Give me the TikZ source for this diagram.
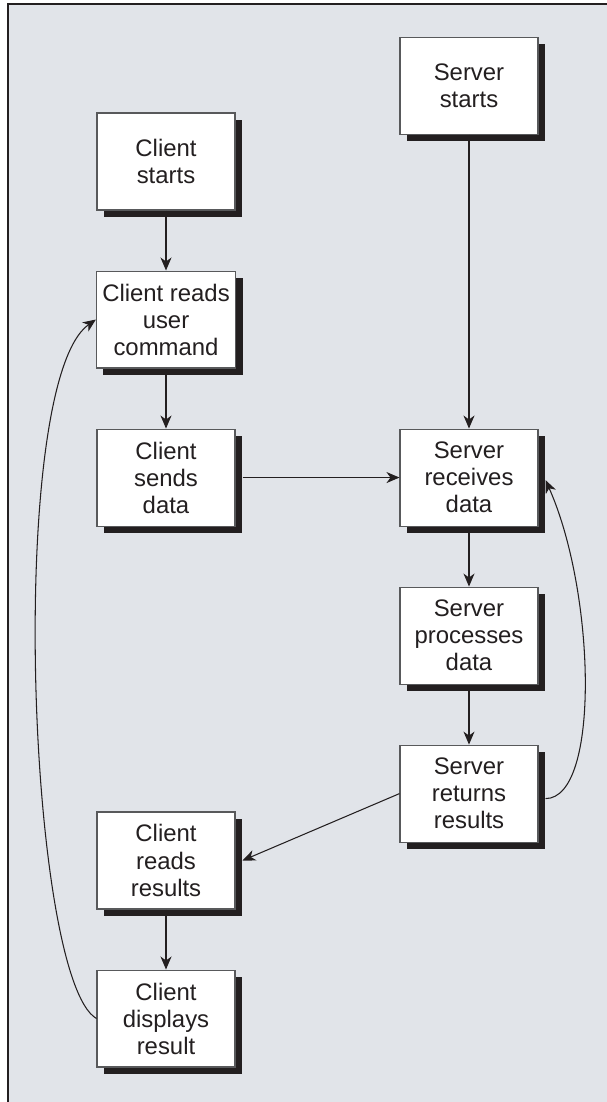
\documentclass[tikz,border=0pt]{standalone}
\usepackage{fontspec}
\setmainfont{Liberation Sans}
\usepackage{tikz}
\usetikzlibrary{arrows.meta,positioning,calc,shadows}
\definecolor{inkdark}{RGB}{35,31,32}
\definecolor{edgegray}{RGB}{88,89,91}
\definecolor{panelgray}{RGB}{225,228,233}
\tikzset{
  stepbox/.style={draw=edgegray, fill=white, line width=0.6pt,
               minimum width=2.76cm, minimum height=1.94cm, align=center,
               text=inkdark, font=\fontsize{13.6}{15.4}\selectfont,
               drop shadow={shadow xshift=0.14cm, shadow yshift=-0.14cm,
                            fill=inkdark, opacity=1}},
  flow/.style={-{Stealth[length=2.6mm, width=2.2mm, inset=0.8mm]}, line width=0.6pt, draw=inkdark},
}

\begin{document}
\begin{tikzpicture}[x=0.02cm, y=-0.02cm, node distance=1.2cm]
        % panel
        \useasboundingbox (0,0) rectangle (607,1102);
        \fill[panelgray] (8,4) rectangle (607,1102);
        \draw[inkdark, line width=1pt] (8,1102) -- (8,4) -- (607,4);
        % client side
        \node[stepbox] (cstart) at (166,161.5) {Client\\starts};
        \node[stepbox, below=of cstart] (cread) {Client reads\\user\\command};
        \node[stepbox, below=of cread] (csend) {Client\\sends\\data};
        \node[stepbox] (cres) at (166,860.5) {Client\\reads\\results};
        \node[stepbox, below=of cres] (cdisp) {Client\\displays\\result};
        % server side
        \node[stepbox, right=3.28cm of csend] (srecv) {Server\\receives\\data};
        \node[stepbox, above=5.88cm of srecv] (sstart) {Server\\starts};
        \node[stepbox, below=of srecv] (sproc) {Server\\processes\\data};
        \node[stepbox, below=of sproc] (sret) {Server\\returns\\results};
        \coordinate (sendout) at ([xshift=0.14cm]csend.east);
        \coordinate (retout) at ([xshift=0.14cm, yshift=-0.1cm]sret.east);
        \coordinate (recvin) at ([xshift=0.14cm, yshift=-0.05cm]srecv.east);
        \coordinate (resin) at ([xshift=0.14cm]cres.east);
        \draw[flow] (cstart)--(cread); \draw[flow] (cread)--(csend);
        \draw[flow] (sstart)--(srecv); \draw[flow] (srecv)--(sproc); \draw[flow] (sproc)--(sret);
        \draw[flow] (cres)--(cdisp);
        \draw[flow] (sendout) -- (srecv.west);
        \draw[flow] (sret.west) -- (resin);
        \draw[flow] (retout) .. controls +(55,0) and +(50,112) .. (recvin);
        \draw[flow] (cdisp.west) .. controls +(-69,-40) and +(-90,63) .. (cread.west);
      \end{tikzpicture}
\end{document}
